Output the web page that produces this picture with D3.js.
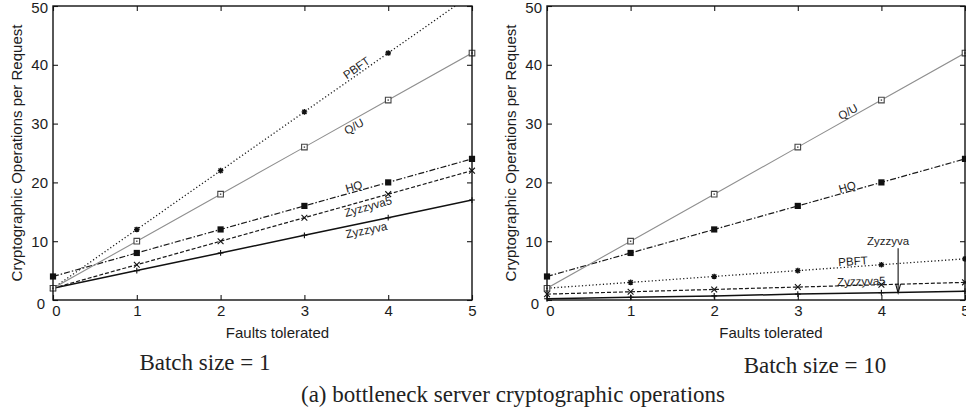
<!DOCTYPE html>
<html>
<head>
<meta charset="utf-8">
<script src="https://cdn.jsdelivr.net/npm/d3@7"></script>
<style>
  html, body { margin: 0; padding: 0; background: #fff; }
  svg { display: block; }
</style>
</head>
<body>
<svg id="fig" width="966" height="415"></svg>
<script>
// ---- data ----
const faults = [0, 1, 2, 3, 4, 5];
const valueTicks = [0, 10, 20, 30, 40, 50];
const seriesNames = ["Zyzzyva", "Zyzzyva5", "HQ", "PBFT", "Q/U"];

// batch size = 1
const zyzzyvaB1  = [2, 5, 8, 11, 14, 17];
const zyzzyva5B1 = [2, 6, 10, 14, 18, 22];
const hqB1       = [4, 8, 12, 16, 20, 24];
const pbftB1     = [2, 12, 22, 32, 42, 52];
const quB1       = [2, 10, 18, 26, 34, 42];

// batch size = 10
const zyzzyvaB10  = [0.2, 0.45, 0.7, 1.0, 1.25, 1.5];
const zyzzyva5B10 = [1.0, 1.4, 1.8, 2.2, 2.6, 3.0];
const hqB10       = [4, 8, 12, 16, 20, 24];
const pbftB10     = [2, 3, 4, 5, 6, 7];
const quB10       = [2, 10, 18, 26, 34, 42];

// in-plot series labels: anchor (faults, value) of the label centre
const labelFaultB1  = [3.74, 3.76, 3.59, 3.62, 3.59];
const labelValueB1  = [11.9, 15.9, 19.3, 39.5, 29.5];
const labelFaultB10 = [4.08, 3.76, 3.59, 3.66, 3.60];
const labelValueB10 = [10.0, 3.2, 19.2, 6.6, 32.0];
// Zyzzyva pointer in the batch-10 panel: [fault, valueFrom, valueTo]
const pointerB10 = [4.2, 8.8, 1.2];

const panelTitles = ["Batch size = 1", "Batch size = 10"];
const xTitle = "Faults tolerated";
const yTitle = "Cryptographic Operations per Request";
const caption = "(a) bottleneck server cryptographic operations";

// ---- styles ----
const styles = {
  "Zyzzyva":  { stroke: "#111",    width: 1.5, dash: null,        marker: "plus"    },
  "Zyzzyva5": { stroke: "#1a1a1a", width: 1.2, dash: "4,2",       marker: "cross"   },
  "HQ":       { stroke: "#1a1a1a", width: 1.2, dash: "6,2,1.5,2", marker: "fsquare" },
  "PBFT":     { stroke: "#1a1a1a", width: 1.3, dash: "1.2,2.3",   marker: "star"    },
  "Q/U":      { stroke: "#8f8f8f", width: 1.1, dash: null,        marker: "osquare" }
};

const svg = d3.select("#fig");
const sans = "'Liberation Sans', Arimo, Arial, sans-serif";
const serif = "'Liberation Serif', 'DejaVu Serif', serif";

function markerPath(kind, s) {
  switch (kind) {
    case "plus":  return `M${-s},0H${s}M0,${-s}V${s}`;
    case "cross": return `M${-s},${-s}L${s},${s}M${-s},${s}L${s},${-s}`;
    case "star":  return `M${-s},0H${s}M0,${-s}V${s}M${-s*0.75},${-s*0.75}L${s*0.75},${s*0.75}M${-s*0.75},${s*0.75}L${s*0.75},${-s*0.75}`;
    default:      return `M${-s},${-s}H${s}V${s}H${-s}Z`;
  }
}

function drawPanel(cfg) {
  const { id, left, right, top, bottom, series, labF, labV, title, titleX, titleY, pointer } = cfg;
  const x = d3.scaleLinear().domain([0, 5]).range([left, right]);
  const y = d3.scaleLinear().domain([0, 50]).range([bottom, top]);
  const g = svg.append("g");

  g.append("clipPath").attr("id", "clip" + id)
    .append("rect").attr("x", left).attr("y", top)
    .attr("width", right - left).attr("height", bottom - top);

  // axes: ticks pointing inward, mirrored on top and right
  const tickFont = (sel) => sel.selectAll("text")
      .attr("font-family", sans).attr("font-size", 15).attr("fill", "#1c1c1c");
  const gx = g.append("g").attr("transform", `translate(0,${bottom})`)
    .call(d3.axisBottom(x).tickValues(faults).tickSize(-5).tickPadding(5).tickFormat(d3.format("d")));
  gx.call(tickFont);
  gx.selectAll(".tick text").filter(d => d === 0).attr("dx", 3);
  const gy = g.append("g").attr("transform", `translate(${left},0)`)
    .call(d3.axisLeft(y).tickValues(valueTicks).tickSize(-5).tickPadding(5).tickFormat(d3.format("d")));
  gy.call(tickFont);
  gy.selectAll(".tick text").filter(d => d === 0).attr("dx", -3).attr("dy", "0.55em");
  gy.selectAll(".tick text").filter(d => d === 50).attr("dy", "0.42em");
  g.append("g").attr("transform", `translate(0,${top})`)
    .call(d3.axisTop(x).tickValues(faults).tickSize(-5).tickFormat(""));
  g.append("g").attr("transform", `translate(${right},0)`)
    .call(d3.axisRight(y).tickValues(valueTicks).tickSize(-5).tickFormat(""));
  g.selectAll(".domain").remove();
  g.selectAll(".tick line").attr("stroke", "#1a1a1a").attr("stroke-width", 1.1);

  // series lines
  const line = d3.line().x((d, i) => x(faults[i])).y(d => y(d));
  series.forEach((vals, k) => {
    const st = styles[seriesNames[k]];
    g.append("path").datum(vals)
      .attr("clip-path", `url(#clip${id})`)
      .attr("d", line)
      .attr("fill", "none")
      .attr("stroke", st.stroke)
      .attr("stroke-width", st.width)
      .attr("stroke-dasharray", st.dash);
  });

  // markers
  series.forEach((vals, k) => {
    const name = seriesNames[k];
    const st = styles[name];
    const pts = vals.map((v, i) => ({ f: faults[i], v })).filter(p => p.v <= 50);
    const m = g.append("g");
    pts.forEach(p => {
      const cx = x(p.f), cy = y(p.v);
      if (st.marker === "fsquare") {
        m.append("path").attr("transform", `translate(${cx},${cy})`)
          .attr("d", markerPath("sq", 3.1)).attr("fill", "#111").attr("stroke", "none");
      } else if (st.marker === "osquare") {
        m.append("path").attr("transform", `translate(${cx},${cy})`)
          .attr("d", markerPath("sq", 2.8)).attr("fill", "#fff").attr("stroke", "#444").attr("stroke-width", 1.1);
        m.append("rect").attr("x", cx - 0.7).attr("y", cy - 0.7).attr("width", 1.4).attr("height", 1.4).attr("fill", "#444");
      } else {
        m.append("path").attr("transform", `translate(${cx},${cy})`)
          .attr("d", markerPath(st.marker, st.marker === "star" ? 2.8 : 2.9))
          .attr("fill", "none").attr("stroke", "#111").attr("stroke-width", st.marker === "star" ? 1.4 : 1.1);
      }
    });
  });

  // series labels, rotated along their lines
  series.forEach((vals, k) => {
    const name = seriesNames[k];
    const cx = x(labF[k]), cy = y(labV[k]);
    const flat = pointer && name === "Zyzzyva";
    const ang = flat ? 0 :
      Math.atan2(y(vals[4]) - y(vals[3]), x(faults[4]) - x(faults[3])) * 180 / Math.PI;
    g.append("text")
      .attr("transform", `translate(${cx},${cy}) rotate(${ang})`)
      .attr("text-anchor", "middle").attr("dy", "0.35em")
      .attr("font-family", sans).attr("font-size", 11.5).attr("fill", "#1c1c1c")
      .text(name);
  });

  if (pointer) {
    const px = x(pointer[0]), y0 = y(pointer[1]), y1 = y(pointer[2]);
    g.append("line").attr("x1", px).attr("x2", px).attr("y1", y0).attr("y2", y1)
      .attr("stroke", "#111").attr("stroke-width", 1.1);
    g.append("path")
      .attr("d", `M${px - 2.5},${y1 - 9}L${px},${y1}L${px + 2.5},${y1 - 9}`)
      .attr("fill", "none").attr("stroke", "#111").attr("stroke-width", 1.1);
  }

  // frame
  g.append("rect").attr("x", left).attr("y", top)
    .attr("width", right - left).attr("height", bottom - top)
    .attr("fill", "none").attr("stroke", "#111").attr("stroke-width", 1.4);

  // axis titles
  g.append("text").attr("x", (left + right) / 2 + 15).attr("y", bottom + 38)
    .attr("text-anchor", "middle").attr("font-family", sans).attr("font-size", 15).attr("fill", "#1c1c1c")
    .text(xTitle);
  g.append("text").attr("transform", `translate(${left - 31},${(top + bottom) / 2}) rotate(-90)`)
    .attr("text-anchor", "middle").attr("font-family", sans).attr("font-size", 15).attr("fill", "#1c1c1c")
    .text(yTitle);

  // panel title
  g.append("text").attr("x", titleX).attr("y", titleY)
    .attr("text-anchor", "middle").attr("font-family", serif).attr("font-size", 23).attr("fill", "#222")
    .text(title);
}

drawPanel({
  id: "b1", left: 53, right: 472, top: 6, bottom: 300,
  series: [zyzzyvaB1, zyzzyva5B1, hqB1, pbftB1, quB1],
  labF: labelFaultB1, labV: labelValueB1,
  title: panelTitles[0], titleX: 205, titleY: 370, pointer: null
});
drawPanel({
  id: "b10", left: 547, right: 965, top: 6, bottom: 300,
  series: [zyzzyvaB10, zyzzyva5B10, hqB10, pbftB10, quB10],
  labF: labelFaultB10, labV: labelValueB10,
  title: panelTitles[1], titleX: 815, titleY: 373, pointer: pointerB10
});

svg.append("text").attr("x", 513).attr("y", 402)
  .attr("text-anchor", "middle").attr("font-family", serif).attr("font-size", 23).attr("fill", "#222")
  .text(caption);
</script>
</body>
</html>
